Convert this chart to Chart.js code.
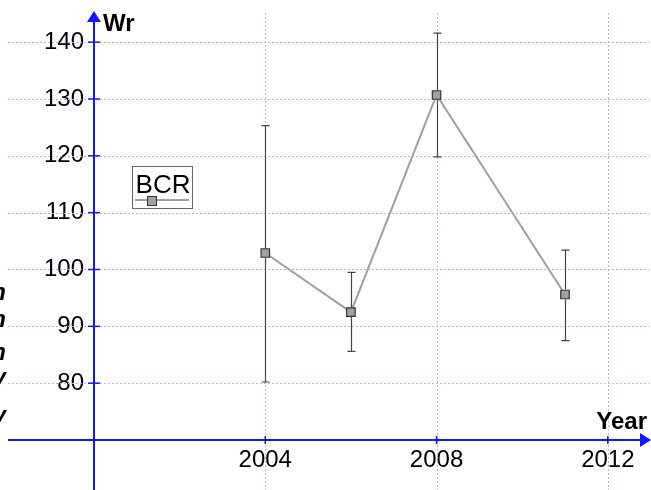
<!DOCTYPE html>
<html>
<head>
<meta charset="utf-8">
<script src="https://cdn.jsdelivr.net/npm/chart.js@4/dist/chart.umd.min.js"></script>
<style>
  html, body { margin: 0; padding: 0; background: #fff; }
  #wrap { width: 651px; height: 490px; }
</style>
</head>
<body>
<div id="wrap"><canvas id="wrChart" width="651" height="490"></canvas></div>
<script>
// Data
const seriesName = 'BCR';
const years = [2004, 2006, 2008, 2011];
const wr = [102.9, 92.5, 130.7, 95.6];
const wrLow = [80.2, 85.6, 119.8, 87.5];
const wrHigh = [125.3, 99.5, 141.6, 103.4];
const yTicks = [80, 90, 100, 110, 120, 130, 140];
const xTicks = [2004, 2008, 2012];

const FONT = '"Liberation Sans", Arial, sans-serif';
const AXIS_BLUE = '#1414ff';
const GRID_BLUE = '#b4b4f4';

// dotted grid, blue axes with arrows, titles, legend box, clipped letters on the left
const framePlugin = {
  id: 'frame',
  beforeDatasetsDraw(chart) {
    const ctx = chart.ctx;
    const xs = chart.scales.x, ys = chart.scales.y;
    const W = chart.width, H = chart.height;
    ctx.save();
    ctx.strokeStyle = GRID_BLUE;
    ctx.lineWidth = 1;
    ctx.setLineDash([2, 2]);
    yTicks.forEach(v => {
      const py = Math.round(ys.getPixelForValue(v)) + 0.5;
      ctx.beginPath(); ctx.moveTo(8, py); ctx.lineTo(W - 2, py); ctx.stroke();
    });
    xTicks.forEach(v => {
      const px = Math.round(xs.getPixelForValue(v)) + 0.5;
      ctx.beginPath(); ctx.moveTo(px, 13); ctx.lineTo(px, H); ctx.stroke();
    });
    ctx.setLineDash([]);

    // axes
    const ox = xs.getPixelForValue(xs.min);
    const oy = ys.getPixelForValue(ys.min);
    ctx.strokeStyle = AXIS_BLUE;
    ctx.fillStyle = AXIS_BLUE;
    ctx.lineWidth = 2;
    ctx.beginPath(); ctx.moveTo(8, oy); ctx.lineTo(W - 8, oy); ctx.stroke();
    ctx.beginPath(); ctx.moveTo(ox, H); ctx.lineTo(ox, 20); ctx.stroke();
    // arrow heads
    ctx.beginPath(); ctx.moveTo(W, oy); ctx.lineTo(W - 11, oy - 7); ctx.lineTo(W - 11, oy + 7); ctx.closePath(); ctx.fill();
    ctx.beginPath(); ctx.moveTo(ox, 11); ctx.lineTo(ox - 7, 22); ctx.lineTo(ox + 7, 22); ctx.closePath(); ctx.fill();
    // tick marks
    ctx.lineWidth = 1.5;
    yTicks.forEach(v => {
      const py = ys.getPixelForValue(v);
      ctx.beginPath(); ctx.moveTo(ox - 6, py); ctx.lineTo(ox + 6, py); ctx.stroke();
    });
    xTicks.forEach(v => {
      const px = xs.getPixelForValue(v);
      ctx.beginPath(); ctx.moveTo(px, oy - 4); ctx.lineTo(px, oy + 4); ctx.stroke();
    });

    // axis titles
    ctx.fillStyle = '#000';
    ctx.font = 'bold 24px ' + FONT;
    ctx.textBaseline = 'alphabetic';
    ctx.textAlign = 'left';
    ctx.fillText('Wr', ox + 9, 31);
    ctx.textAlign = 'right';
    ctx.fillText('Year', W - 4, 429);

    // letters cut off at the left edge
    ctx.font = 'italic bold 24px ' + FONT;
    ctx.textAlign = 'right';
    [['n', 300], ['n', 327], ['n', 360], ['y', 385], ['y', 423]].forEach(([t, py]) => {
      ctx.fillText(t, 6, py);
    });
    ctx.restore();
  },
  afterDatasetsDraw(chart) {
    const ctx = chart.ctx;
    const xs = chart.scales.x, ys = chart.scales.y;
    ctx.save();
    // error bars
    ctx.strokeStyle = '#444';
    ctx.lineWidth = 1.2;
    years.forEach((yr, i) => {
      const px = Math.round(xs.getPixelForValue(yr)) + 0.5;
      const top = ys.getPixelForValue(wrHigh[i]);
      const bot = ys.getPixelForValue(wrLow[i]);
      const mid = ys.getPixelForValue(wr[i]);
      ctx.beginPath();
      ctx.moveTo(px, top); ctx.lineTo(px, mid - 5);
      ctx.moveTo(px, mid + 5); ctx.lineTo(px, bot);
      ctx.moveTo(px - 4, top); ctx.lineTo(px + 4, top);
      ctx.moveTo(px - 4, bot); ctx.lineTo(px + 4, bot);
      ctx.stroke();
    });

    // legend box
    const lx = 132, ly = 166, lw = 60, lh = 42;
    ctx.fillStyle = '#fff';
    ctx.fillRect(lx, ly, lw, lh);
    ctx.strokeStyle = '#666';
    ctx.lineWidth = 1;
    ctx.strokeRect(lx + 0.5, ly + 0.5, lw, lh);
    ctx.fillStyle = '#000';
    ctx.font = '26px ' + FONT;
    ctx.textAlign = 'center';
    ctx.textBaseline = 'alphabetic';
    ctx.fillText(chart.data.datasets[0].label, lx + lw / 2 + 1, ly + 27);
    ctx.strokeStyle = '#a0a0a0';
    ctx.lineWidth = 2;
    ctx.beginPath(); ctx.moveTo(lx + 3, ly + 34); ctx.lineTo(lx + lw - 3, ly + 34); ctx.stroke();
    ctx.fillStyle = '#a0a0a6';
    ctx.fillRect(lx + 15, ly + 30, 9, 9);
    ctx.strokeStyle = '#333';
    ctx.lineWidth = 1;
    ctx.strokeRect(lx + 15.5, ly + 30.5, 9, 9);
    ctx.restore();
  }
};

const ctx = document.getElementById('wrChart').getContext('2d');
const wrChart = new Chart(ctx, {
  type: 'scatter',
  data: {
    datasets: [{
      label: seriesName,
      data: years.map((yr, i) => ({ x: yr, y: wr[i] })),
      showLine: true,
      borderColor: '#a0a0a0',
      borderWidth: 2,
      pointStyle: 'rect',
      pointRadius: 6,
      pointBackgroundColor: '#a0a0a6',
      pointBorderColor: '#333',
      pointBorderWidth: 1.2,
      tension: 0
    }]
  },
  options: {
    responsive: false,
    animation: false,
    layout: { padding: { top: 12, right: 1, left: 0, bottom: 0 } },
    plugins: {
      legend: { display: false },
      tooltip: { enabled: false }
    },
    scales: {
      x: {
        type: 'linear',
        min: 2000,
        max: 2012.84,
        grid: { display: false, drawTicks: false },
        border: { display: false },
        afterFit: (scale) => {
          scale.height = 50;
          scale.paddingLeft = 0;
          scale.paddingRight = 0;
        },
        ticks: {
          stepSize: 4,
          includeBounds: false,
          autoSkip: false,
          maxRotation: 0,
          padding: 6,
          color: '#000',
          font: { family: FONT, size: 24 },
          callback: (v) => (xTicks.includes(v) ? String(v) : '')
        }
      },
      y: {
        min: 70,
        max: 145.3,
        grid: { display: false, drawTicks: false },
        border: { display: false },
        afterFit: (scale) => {
          scale.width = 94;
          scale.paddingTop = 0;
          scale.paddingBottom = 0;
        },
        ticks: {
          stepSize: 10,
          includeBounds: false,
          padding: 10,
          color: '#000',
          font: { family: FONT, size: 24 },
          callback: (v) => (yTicks.includes(v) ? String(v) : '')
        }
      }
    }
  },
  plugins: [framePlugin]
});
</script>
</body>
</html>
